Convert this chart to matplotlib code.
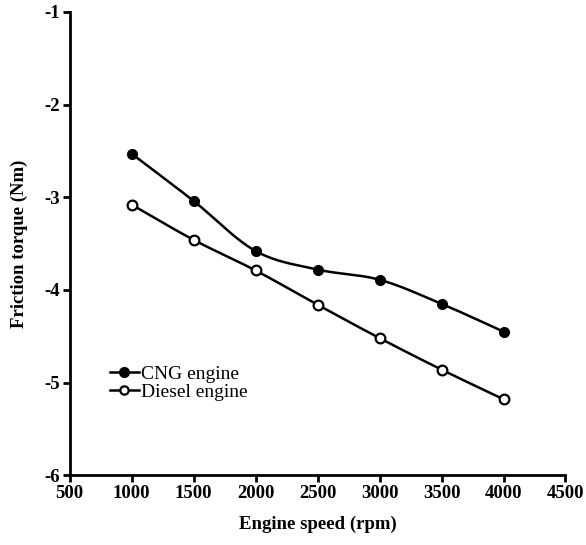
import matplotlib
matplotlib.use("Agg")
import matplotlib.pyplot as plt
import numpy as np

speed = [1000, 1500, 2000, 2500, 3000, 3500, 4000]
cng = [-2.53, -3.04, -3.58, -3.78, -3.89, -4.15, -4.45]
diesel = [-3.08, -3.46, -3.79, -4.16, -4.52, -4.86, -5.18]

plt.rcParams['font.family'] = ['Liberation Serif', 'DejaVu Serif']


def smooth(x, y, n=30):
    # catmull-rom through the points
    x = np.asarray(x, float)
    y = np.asarray(y, float)
    px = np.concatenate([[2 * x[0] - x[1]], x, [2 * x[-1] - x[-2]]])
    py = np.concatenate([[2 * y[0] - y[1]], y, [2 * y[-1] - y[-2]]])
    xs, ys = [], []
    t = np.linspace(0, 1, n)
    for i in range(1, len(px) - 2):
        for p, out in ((px, xs), (py, ys)):
            p0, p1, p2, p3 = p[i - 1], p[i], p[i + 1], p[i + 2]
            out.extend(0.5 * ((2 * p1) + (-p0 + p2) * t
                              + (2 * p0 - 5 * p1 + 4 * p2 - p3) * t ** 2
                              + (-p0 + 3 * p1 - 3 * p2 + p3) * t ** 3))
    return xs, ys


fig = plt.figure(figsize=(5.86, 5.45), dpi=100)
ax = fig.add_axes([0.119, 0.128, 0.846, 0.850])

sx, sy = smooth(speed, cng)
ax.plot(sx, sy, color='black', lw=1.8)
ax.plot(speed, cng, 'o', color='black', ms=7)
sx, sy = smooth(speed, diesel)
ax.plot(sx, sy, color='black', lw=1.8)
ax.plot(speed, diesel, 'o', mfc='white', mec='black', mew=1.6, ms=7)

# legend handles
ax.plot([], [], '-o', color='black', lw=1.8, ms=7, label='CNG engine')
ax.plot([], [], '-o', color='black', lw=1.8, ms=6, mfc='white', mew=1.6,
        label='Diesel engine')
ax.legend(loc='upper left', bbox_to_anchor=(0.065, 0.255), frameon=False,
          fontsize=14, handlelength=1.5, handletextpad=0.1,
          labelspacing=0.05, borderaxespad=0)

ax.set_xlim(500, 4500)
ax.set_ylim(-6, -1)
ax.set_xticks(range(500, 4501, 500))
ax.set_yticks([-6, -5, -4, -3, -2, -1])
ax.set_yticklabels(['-6', '-5', '-4', '-3', '-2', '-1'])

for s in ['top', 'right']:
    ax.spines[s].set_visible(False)
for s in ['left', 'bottom']:
    ax.spines[s].set_linewidth(2)
ax.tick_params(width=2, length=5, labelsize=13.5, pad=2)
for lab in ax.get_xticklabels() + ax.get_yticklabels():
    lab.set_fontweight('bold')

ax.set_xlabel('Engine speed (rpm)', fontsize=13.5, fontweight='bold', labelpad=10)
ax.set_ylabel('Friction torque (Nm)', fontsize=13.5, fontweight='bold', labelpad=12)

fig.savefig('out.png', dpi=100)
